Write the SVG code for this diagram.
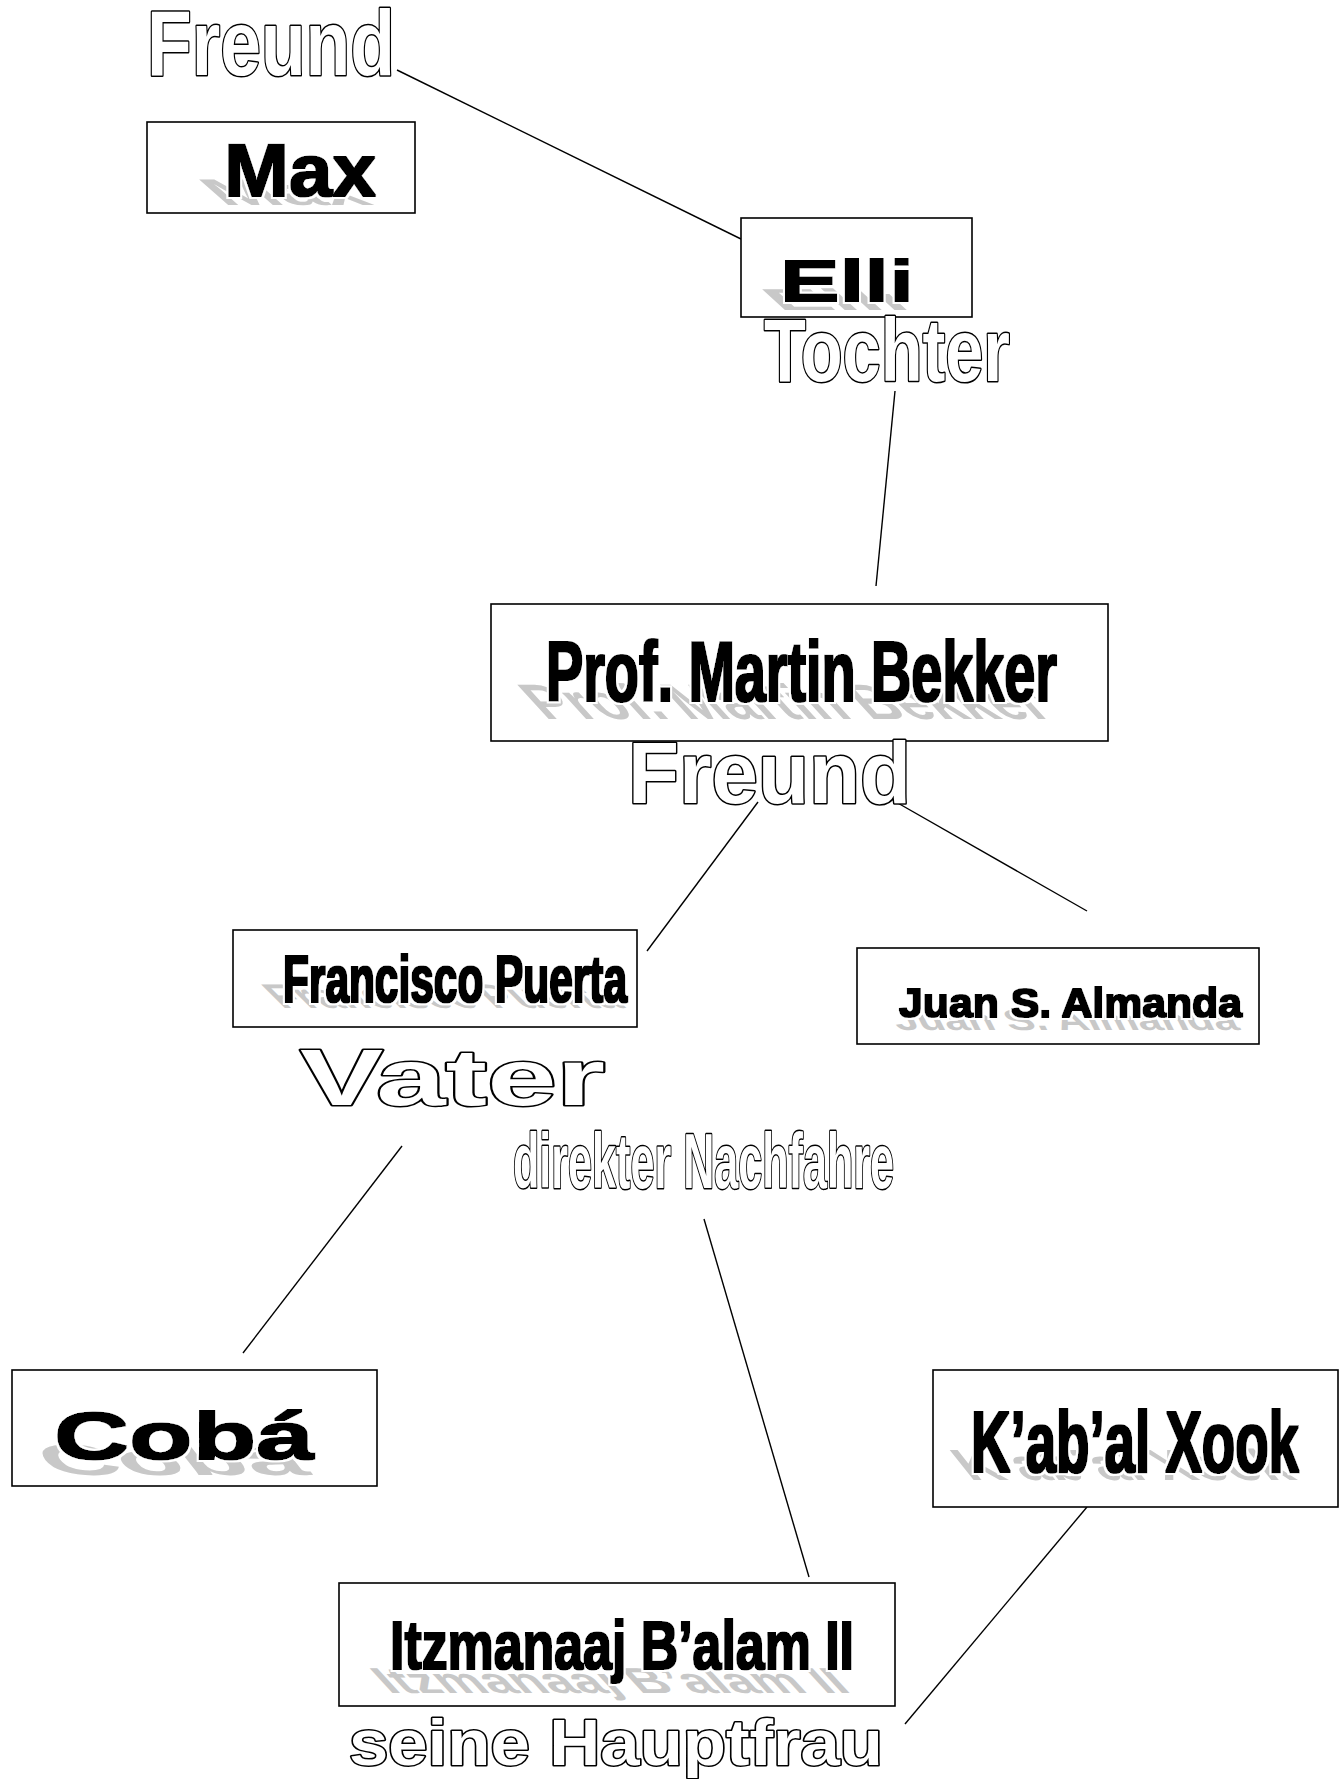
<svg xmlns="http://www.w3.org/2000/svg" width="1343" height="1779" viewBox="0 0 1343 1779">
<defs>
<filter id="heavy" x="-5%" y="-20%" width="110%" height="140%">
<feMorphology in="SourceAlpha" operator="dilate" radius="1" result="fat"/>
<feMorphology in="SourceAlpha" operator="dilate" radius="2.6" result="halo"/>
<feFlood flood-color="#ffffff" result="w"/>
<feComposite in="w" in2="halo" operator="in" result="hw"/>
<feFlood flood-color="#000000" result="b"/>
<feComposite in="b" in2="fat" operator="in" result="fb"/>
<feMerge><feMergeNode in="hw"/><feMergeNode in="fb"/></feMerge>
</filter>
</defs>
<style>
.box{fill:#fff;stroke:#000;stroke-width:1.6}
.nt{font-family:"Liberation Sans",Arial,sans-serif;font-weight:bold;fill:#000;filter:url(#heavy)}
.sh{font-family:"Liberation Sans",Arial,sans-serif;font-weight:bold;fill:#c8c8c8}
.lb{font-family:"Liberation Sans",Arial,sans-serif;font-weight:bold;fill:#fff;stroke:#000;stroke-width:3;stroke-linejoin:round;paint-order:stroke}
.cn{stroke:#000;stroke-width:1.4;fill:none}
</style>
<rect width="1343" height="1779" fill="#fff"/>
<g id="connectors">
<line class="cn" x1="397" y1="70" x2="741" y2="239"/>
<line class="cn" x1="895" y1="391" x2="876" y2="586"/>
<line class="cn" x1="758" y1="802" x2="647" y2="951"/>
<line class="cn" x1="896" y1="802" x2="1087" y2="911"/>
<line class="cn" x1="402" y1="1146" x2="243" y2="1353"/>
<line class="cn" x1="704" y1="1219" x2="809" y2="1577"/>
<line class="cn" x1="1087" y1="1507" x2="905" y2="1724"/>
</g>
<g id="node-max">
<rect class="box" x="147" y="122" width="268" height="91"/>
<text class="sh" transform="translate(223,205) matrix(1 0 0.57 0.5 0 0)" font-size="74" textLength="152" lengthAdjust="spacingAndGlyphs">Max</text>
<text class="nt" x="224" y="196" font-size="74" textLength="152" lengthAdjust="spacingAndGlyphs">Max</text>
</g>
<g id="node-elli">
<rect class="box" x="741" y="218" width="231" height="99"/>
<text class="sh" transform="translate(779,310) matrix(1 0 0.57 0.52 0 0)" font-size="58" textLength="134" lengthAdjust="spacingAndGlyphs">Elli</text>
<text class="nt" x="780" y="301" font-size="58" textLength="134" lengthAdjust="spacingAndGlyphs">Elli</text>
</g>
<g id="node-bekker">
<rect class="box" x="491" y="604" width="617" height="137"/>
<text class="sh" transform="translate(545,719) matrix(1 0 0.53 0.58 0 0)" font-size="86" textLength="511" lengthAdjust="spacingAndGlyphs">Prof. Martin Bekker</text>
<text class="nt" x="546" y="701" font-size="86" textLength="511" lengthAdjust="spacingAndGlyphs">Prof. Martin Bekker</text>
</g>
<g id="node-francisco">
<rect class="box" x="233" y="930" width="404" height="97"/>
<text class="sh" transform="translate(282,1008) matrix(1 0 0.52 0.52 0 0)" font-size="66" textLength="344" lengthAdjust="spacingAndGlyphs">Francisco Puerta</text>
<text class="nt" x="283" y="1002" font-size="66" textLength="344" lengthAdjust="spacingAndGlyphs">Francisco Puerta</text>
</g>
<g id="node-juan">
<rect class="box" x="857" y="948" width="402" height="96"/>
<text class="sh" transform="translate(898,1030) matrix(1 0 0.35 0.7 0 0)" font-size="41" textLength="343" lengthAdjust="spacingAndGlyphs">Juan S. Almanda</text>
<text class="nt" x="899" y="1017" font-size="41" textLength="343" lengthAdjust="spacingAndGlyphs">Juan S. Almanda</text>
</g>
<g id="node-coba">
<rect class="box" x="12" y="1370" width="365" height="116"/>
<text class="sh" transform="translate(53,1475) matrix(1 0 0.52 0.66 0 0)" font-size="66" textLength="260" lengthAdjust="spacingAndGlyphs">Cobá</text>
<text class="nt" x="54" y="1459" font-size="66" textLength="260" lengthAdjust="spacingAndGlyphs">Cobá</text>
</g>
<g id="node-kabal">
<rect class="box" x="933" y="1370" width="405" height="137"/>
<text class="sh" transform="translate(970,1480) matrix(1 0 0.4 0.5 0 0)" font-size="87" textLength="328" lengthAdjust="spacingAndGlyphs">K’ab’al Xook</text>
<text class="nt" x="971" y="1472" font-size="87" textLength="328" lengthAdjust="spacingAndGlyphs">K’ab’al Xook</text>
</g>
<g id="node-itzmanaaj">
<rect class="box" x="339" y="1583" width="556" height="123"/>
<text class="sh" transform="translate(389,1693) matrix(1 0 0.48 0.52 0 0)" font-size="69" textLength="464" lengthAdjust="spacingAndGlyphs">Itzmanaaj B’alam II</text>
<text class="nt" x="390" y="1669" font-size="69" textLength="464" lengthAdjust="spacingAndGlyphs">Itzmanaaj B’alam II</text>
</g>
<g id="labels">
<text class="lb" x="147" y="75" font-size="93" textLength="248" lengthAdjust="spacingAndGlyphs">Freund</text>
<text class="lb" x="764" y="381" font-size="89" textLength="246" lengthAdjust="spacingAndGlyphs">Tochter</text>
<text class="lb" x="628" y="803" font-size="87" textLength="283" lengthAdjust="spacingAndGlyphs">Freund</text>
<text class="lb" x="300" y="1105" font-size="80" textLength="305" lengthAdjust="spacingAndGlyphs">Vater</text>
<text class="lb" x="513" y="1188" font-size="78" textLength="381" lengthAdjust="spacingAndGlyphs">direkter Nachfahre</text>
<text class="lb" x="349" y="1765" font-size="64" textLength="534" lengthAdjust="spacingAndGlyphs">seine Hauptfrau</text>
</g>
</svg>
